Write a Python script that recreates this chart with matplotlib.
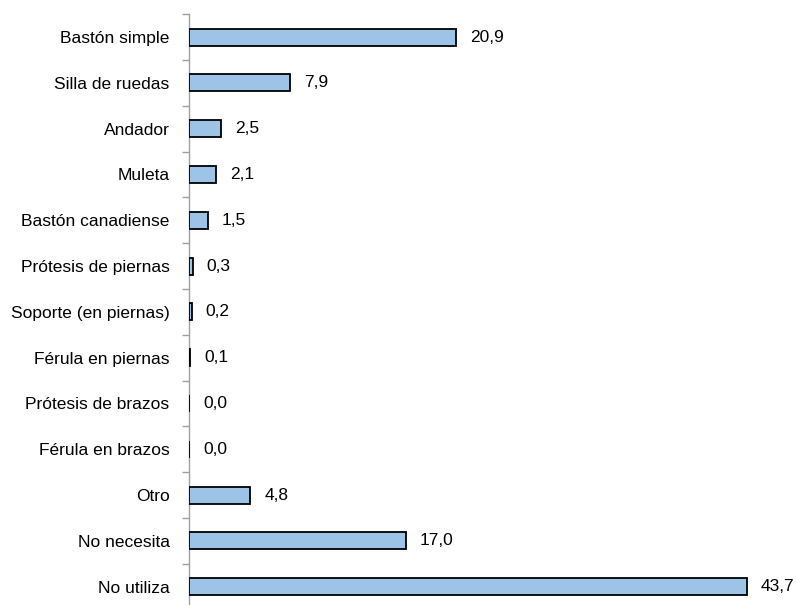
import numpy as np
import matplotlib.pyplot as plt

categorias = ["Bastón simple", "Silla de ruedas", "Andador", "Muleta",
              "Bastón canadiense", "Prótesis de piernas", "Soporte (en piernas)",
              "Férula en piernas", "Prótesis de brazos", "Férula en brazos",
              "Otro", "No necesita", "No utiliza"]
valores = [20.9, 7.9, 2.5, 2.1, 1.5, 0.3, 0.2, 0.1, 0.0, 0.0, 4.8, 17.0, 43.7]

plt.rcParams['font.family'] = ['Liberation Sans', 'DejaVu Sans']

fig = plt.figure(figsize=(7.97, 6.05), dpi=100)
ax = fig.add_axes([189/797, -0.0075, 600/797, 0.984])

y = np.arange(len(categorias))
ax.barh(y, valores, height=0.37, color="#9dc3e6", edgecolor="black",
        linewidth=1.3, zorder=3)
for yi, v in zip(y, valores):
    ax.annotate(f"{v:.1f}".replace(".", ","), (v, yi), xytext=(10, 0),
                textcoords="offset points", va="center", ha="left", fontsize=12.5)

ax.set_ylim(len(categorias) - 0.5, -0.5)
ax.set_xlim(0, 47)
ax.set_yticks(y)
ax.set_yticklabels(categorias, fontsize=12.5)
ax.set_yticks(np.arange(-0.5, len(categorias)), minor=True)
ax.tick_params(axis="y", which="major", length=0, pad=14)
ax.tick_params(axis="y", which="minor", length=5, color="#a0a0a0", width=1)
ax.set_xticks([])
for s in ["top", "right", "bottom"]:
    ax.spines[s].set_visible(False)
ax.spines["left"].set_color("#a0a0a0")
ax.spines["left"].set_linewidth(1)

fig.savefig("out.png", dpi=100)
